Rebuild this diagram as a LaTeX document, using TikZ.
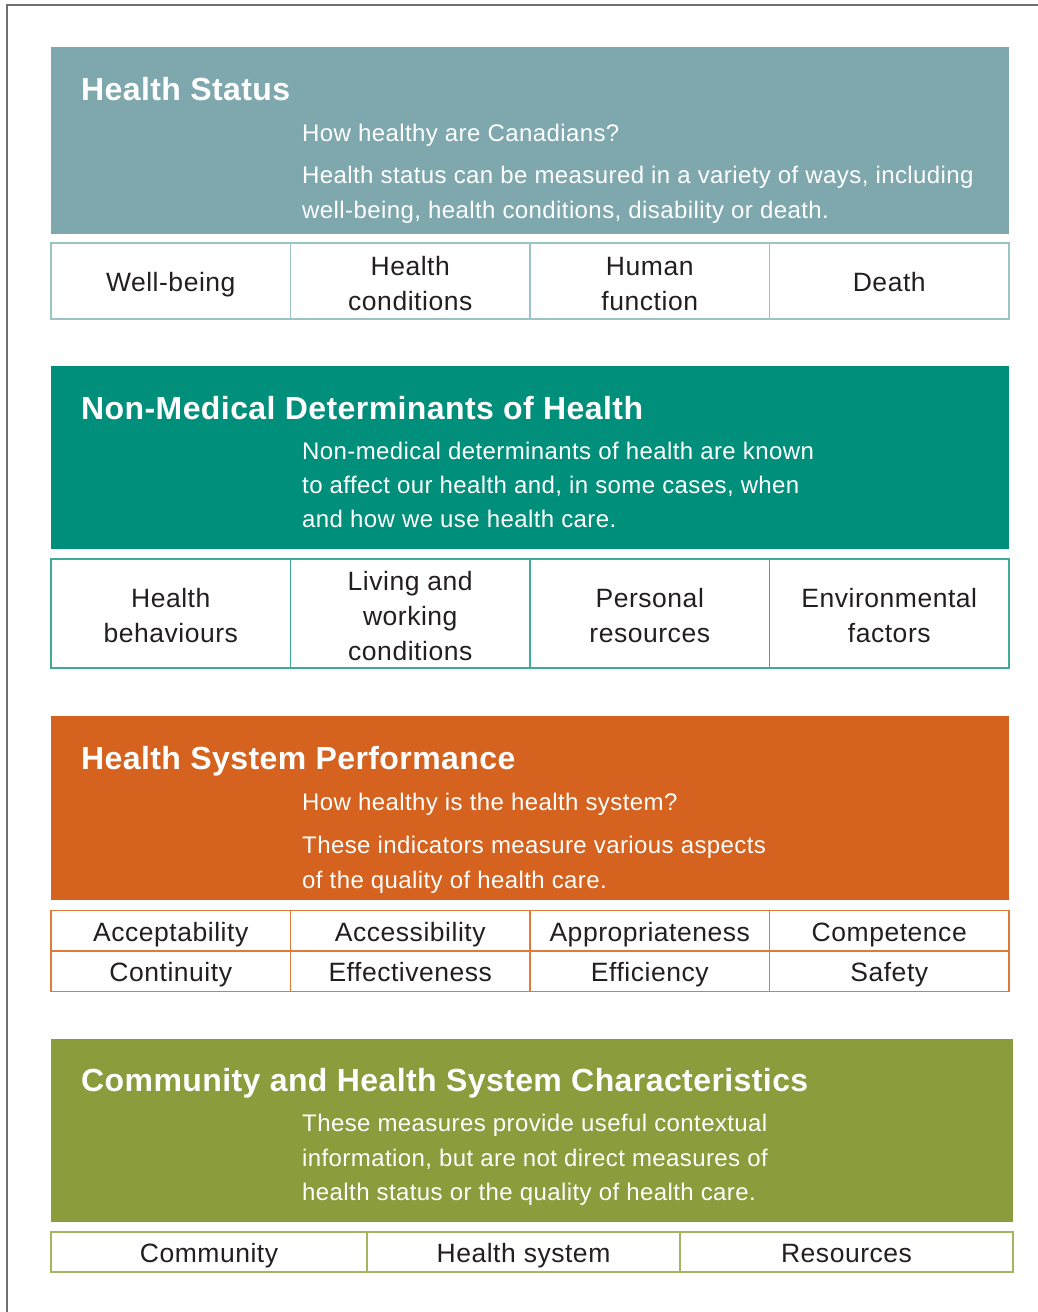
\documentclass[tikz,border=0pt]{standalone}
\usepackage{fontspec}
\setmainfont{Liberation Sans}[LetterSpace=2]
\newfontfamily\titlefont{Liberation Sans}[LetterSpace=1.3]
\newfontfamily\descfont{Liberation Sans}[LetterSpace=1.7]
\usetikzlibrary{positioning}

\definecolor{framegray}{HTML}{6F6F6F}
\definecolor{inkdark}{HTML}{231F20}
\definecolor{statusbg}{HTML}{7EA8AE}
\definecolor{statusln}{HTML}{9CC3C8}
\definecolor{determbg}{HTML}{008F7A}
\definecolor{determln}{HTML}{3FA99A}
\definecolor{perfbg}{HTML}{D5621E}
\definecolor{perfln}{HTML}{E07A3A}
\definecolor{commbg}{HTML}{8A9C3C}
\definecolor{commln}{HTML}{A6B35F}

\tikzset{
  headtitle/.style={anchor=base west, inner sep=0, text=white,
    font=\titlefont\fontsize{32}{36}\selectfont\bfseries},
  headtext/.style={anchor=base west, inner sep=0, text=white,
    font=\descfont\fontsize{24}{34}\selectfont},
  cell/.style={draw=#1, line width=1.2pt, fill=white, inner sep=0,
    text=inkdark, align=center, font=\fontsize{26.5}{35}\selectfont},
  oneline/.style={text height=23pt, text depth=2pt},
  twoline/.style={text height=58pt, text depth=0pt},
  threeline/.style={text height=93pt, text depth=0pt},
}

\begin{document}
\begin{tikzpicture}[x=1pt, y=-1pt]
\useasboundingbox (0,0) rectangle (1038,1312);
% outer frame
\draw[framegray, line width=2.5pt] (7,1312) -- (7,5) -- (1038,5);

% health status
\fill[statusbg] (51,47) rectangle (1009,234);
\node[headtitle] (hstitle) at (81,100) {Health Status};
\node[headtext] (hsq) at (302,141) {How healthy are Canadians?};
\node[headtext] (hsa) at (302,183) {Health status can be measured in a variety of ways, including};
\node[headtext] (hsb) at (302,218) {well-being, health conditions, disability or death.};
\node[cell=statusln, oneline, minimum width=239.5pt, minimum height=76pt] (wb) at (170.75,281) {Well-being};
\node[cell=statusln, twoline, minimum width=239.5pt, minimum height=76pt] (hc) at (410.25,281) {Health\\conditions};
\node[cell=statusln, twoline, minimum width=239.5pt, minimum height=76pt] (hf) at (649.75,281) {Human\\function};
\node[cell=statusln, oneline, minimum width=239.5pt, minimum height=76pt] (de) at (889.25,281) {Death};

% non-medical determinants
\fill[determbg] (51,366) rectangle (1009,549);
\node[headtitle] (ndtitle) at (81,419) {Non-Medical Determinants of Health};
\node[headtext] (nda) at (302,459) {Non-medical determinants of health are known};
\node[headtext] (ndb) at (302,493) {to affect our health and, in some cases, when};
\node[headtext] (ndc) at (302,527) {and how we use health care.};
\node[cell=determln, twoline, minimum width=239.5pt, minimum height=109pt] (hb) at (170.75,613.5) {Health\\behaviours};
\node[cell=determln, threeline, minimum width=239.5pt, minimum height=109pt] (lw) at (410.25,613.5) {Living and\\working\\conditions};
\node[cell=determln, twoline, minimum width=239.5pt, minimum height=109pt] (pr) at (649.75,613.5) {Personal\\resources};
\node[cell=determln, twoline, minimum width=239.5pt, minimum height=109pt] (ef) at (889.25,613.5) {Environmental\\factors};

% health system performance
\fill[perfbg] (51,716) rectangle (1009,900);
\node[headtitle] (sptitle) at (81,769) {Health System Performance};
\node[headtext] (spq) at (302,810) {How healthy is the health system?};
\node[headtext] (spa) at (302,853) {These indicators measure various aspects};
\node[headtext] (spb) at (302,888) {of the quality of health care.};
\node[cell=perfln, oneline, minimum width=239.5pt, minimum height=40.5pt] (acc) at (170.75,930.75) {Acceptability};
\node[cell=perfln, oneline, minimum width=239.5pt, minimum height=40.5pt] (acs) at (410.25,930.75) {Accessibility};
\node[cell=perfln, oneline, minimum width=239.5pt, minimum height=40.5pt] (app) at (649.75,930.75) {Appropriateness};
\node[cell=perfln, oneline, minimum width=239.5pt, minimum height=40.5pt] (com) at (889.25,930.75) {Competence};
\node[cell=perfln, oneline, minimum width=239.5pt, minimum height=40.5pt] (con) at (170.75,971.25) {Continuity};
\node[cell=perfln, oneline, minimum width=239.5pt, minimum height=40.5pt] (eft) at (410.25,971.25) {Effectiveness};
\node[cell=perfln, oneline, minimum width=239.5pt, minimum height=40.5pt] (efc) at (649.75,971.25) {Efficiency};
\node[cell=perfln, oneline, minimum width=239.5pt, minimum height=40.5pt] (saf) at (889.25,971.25) {Safety};

% community and health system characteristics
\fill[commbg] (51,1039) rectangle (1013,1222);
\node[headtitle] (chtitle) at (81,1091) {Community and Health System Characteristics};
\node[headtext] (cha) at (302,1131) {These measures provide useful contextual};
\node[headtext] (chb) at (302,1166) {information, but are not direct measures of};
\node[headtext] (chc) at (302,1200) {health status or the quality of health care.};
\node[cell=commln, oneline, minimum width=316pt, minimum height=40pt] (cm) at (209,1252) {Community};
\node[cell=commln, oneline, minimum width=313pt, minimum height=40pt] (hsy) at (523.5,1252) {Health system};
\node[cell=commln, oneline, minimum width=333pt, minimum height=40pt] (rs) at (846.5,1252) {Resources};
\end{tikzpicture}
\end{document}
